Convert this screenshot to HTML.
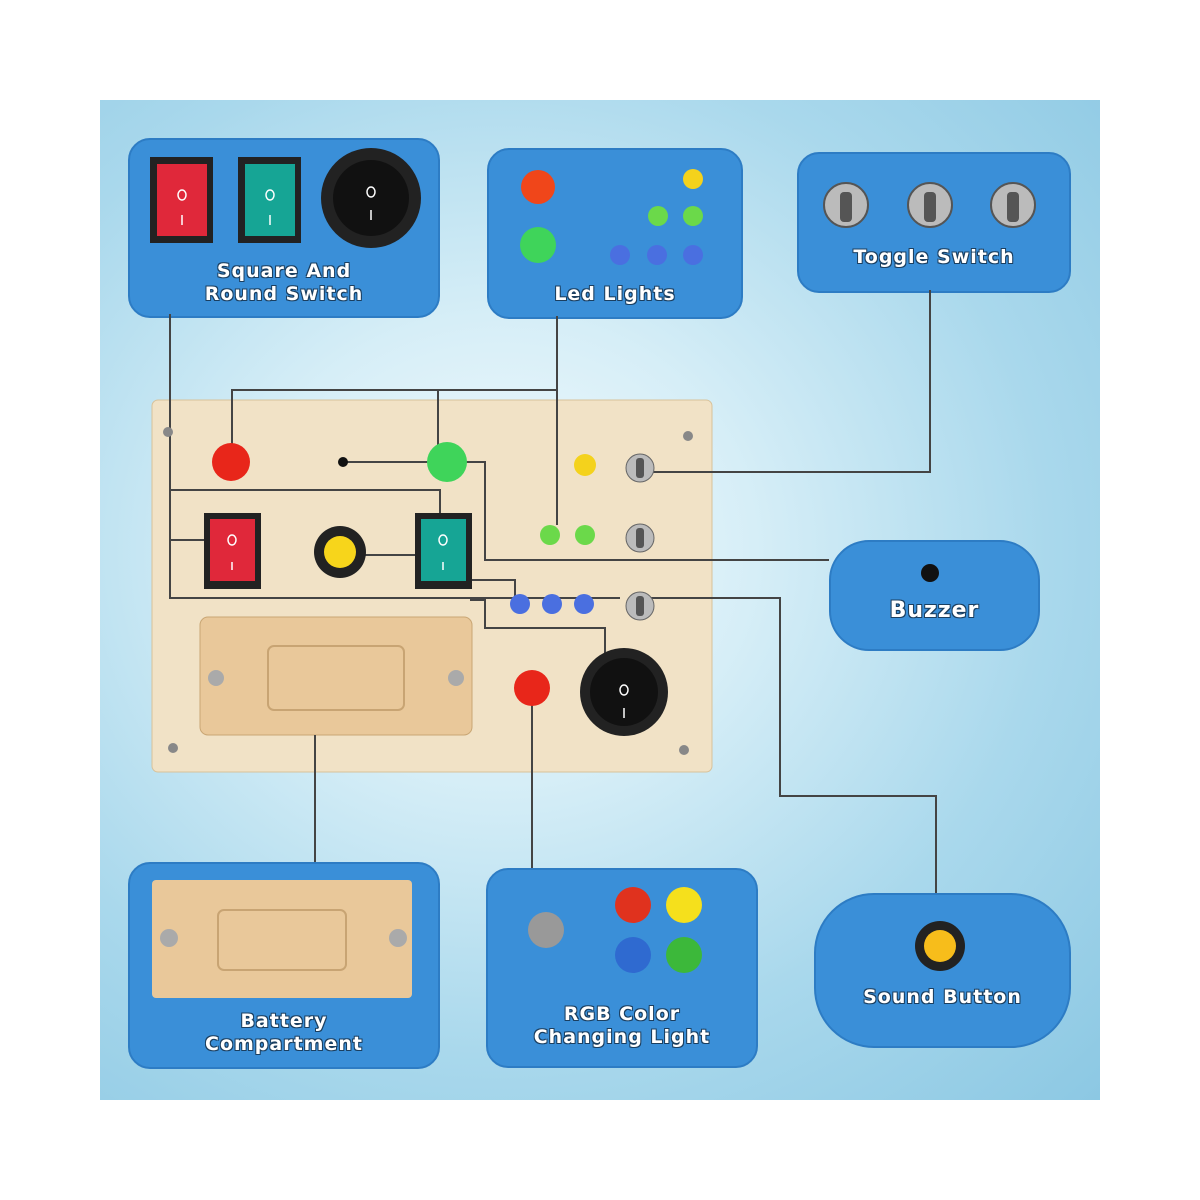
<!DOCTYPE html>
<html><head><meta charset="utf-8"><style>
body{margin:0;width:1200px;height:1200px;background:#fff;position:relative;overflow:hidden;font-family:"Liberation Serif",serif}
.bg{position:absolute;left:100px;top:100px;width:1000px;height:1000px;background:radial-gradient(ellipse at 40% 45%,#f4fbfe 0%,#d6eef7 30%,#a9d8ec 65%,#8cc8e3 100%)}
.box{position:absolute;background:#3a8fd8;border-radius:22px;border:2px solid #2d7cc4}
.lbl{position:absolute;color:#fff;font-family:"DejaVu Sans","Liberation Sans",sans-serif;font-weight:bold;font-size:19px;text-align:center;width:100%;line-height:23px;letter-spacing:1px;text-shadow:1px 1px 0 #1b3f60,-1px 1px 0 #1b3f60,1px -1px 0 #1b3f60,-1px -1px 0 #1b3f60}
svg{position:absolute;left:0;top:0}
</style></head><body>
<div class="bg"></div>
<div class="box" style="left:128px;top:138px;width:308px;height:176px"><div class="lbl" style="top:120px">Square And<br>Round Switch</div></div>
<div class="box" style="left:487px;top:148px;width:252px;height:167px"><div class="lbl" style="top:133px">Led Lights</div></div>
<div class="box" style="left:797px;top:152px;width:270px;height:137px"><div class="lbl" style="top:92px">Toggle Switch</div></div>
<div class="box" style="left:829px;top:540px;width:207px;height:107px;border-radius:40px"><div class="lbl" style="top:57px;font-size:22px">Buzzer</div></div>
<div class="box" style="left:128px;top:862px;width:308px;height:203px"><div class="lbl" style="top:146px">Battery<br>Compartment</div></div>
<div class="box" style="left:486px;top:868px;width:268px;height:196px"><div class="lbl" style="top:133px">RGB Color<br>Changing Light</div></div>
<div class="box" style="left:814px;top:893px;width:253px;height:151px;border-radius:60px"><div class="lbl" style="top:91px">Sound Button</div></div>
<svg width="1200" height="1200">
<rect x="152" y="400" width="560" height="372" rx="6" fill="#f1e2c6" stroke="#d8c29a"/>
<rect x="200" y="617" width="272" height="118" rx="8" fill="#e9c89a" stroke="#c9a674"/>
<rect x="268" y="646" width="136" height="64" rx="6" fill="none" stroke="#c8a473" stroke-width="2"/>
<circle cx="216" cy="678" r="8" fill="#aaa"/><circle cx="456" cy="678" r="8" fill="#aaa"/>
<g stroke="#444" stroke-width="2" fill="none">
<polyline points="170,314 170,598 620,598"/>
<polyline points="232,455 232,390 557,390 557,316"/>
<polyline points="438,455 438,390"/>
<polyline points="170,490 440,490 440,530"/>
<polyline points="170,540 215,540"/>
<polyline points="343,462 485,462 485,560 829,560"/>
<polyline points="360,555 415,555"/>
<polyline points="557,390 557,525"/>
<polyline points="653,472 930,472 930,290"/>
<polyline points="465,580 515,580 515,600"/>
<polyline points="470,600 485,600 485,628 605,628 605,660"/>
<polyline points="640,598 780,598 780,796 936,796 936,893"/>
<polyline points="315,735 315,862"/>
<polyline points="532,690 532,868"/>
</g>
<circle cx="343" cy="462" r="5" fill="#111"/>
<circle cx="231" cy="462" r="19" fill="#e8261a"/>
<circle cx="447" cy="462" r="20" fill="#3fd45a"/>
<circle cx="585" cy="465" r="11" fill="#f4d21c"/>
<circle cx="550" cy="535" r="10" fill="#6bd94a"/><circle cx="585" cy="535" r="10" fill="#6bd94a"/>
<circle cx="520" cy="604" r="10" fill="#4a6fe0"/><circle cx="552" cy="604" r="10" fill="#4a6fe0"/><circle cx="584" cy="604" r="10" fill="#4a6fe0"/>
<rect x="204" y="513" width="57" height="76" fill="#222"/><rect x="210" y="519" width="45" height="62" fill="#e0283a"/>
<rect x="415" y="513" width="57" height="76" fill="#222"/><rect x="421" y="519" width="45" height="62" fill="#16a595"/>
<g stroke="#fff" stroke-width="1.5" fill="none"><ellipse cx="232" cy="540" rx="4" ry="5"/><line x1="232" y1="562" x2="232" y2="570"/><ellipse cx="443" cy="540" rx="4" ry="5"/><line x1="443" y1="562" x2="443" y2="570"/></g>
<circle cx="340" cy="552" r="26" fill="#222"/><circle cx="340" cy="552" r="16" fill="#f7d51b"/>
<circle cx="532" cy="688" r="18" fill="#e8261a"/>
<circle cx="624" cy="692" r="44" fill="#222"/><circle cx="624" cy="692" r="34" fill="#111"/>
<g stroke="#fff" stroke-width="1.5" fill="none"><ellipse cx="624" cy="690" rx="4" ry="5"/><line x1="624" y1="708" x2="624" y2="718"/></g>
<g fill="#bbb" stroke="#666"><circle cx="640" cy="468" r="14"/><circle cx="640" cy="538" r="14"/><circle cx="640" cy="606" r="14"/></g>
<g fill="#555"><rect x="636" y="458" width="8" height="20" rx="3"/><rect x="636" y="528" width="8" height="20" rx="3"/><rect x="636" y="596" width="8" height="20" rx="3"/></g>
<g fill="#888"><circle cx="168" cy="432" r="5"/><circle cx="688" cy="436" r="5"/><circle cx="173" cy="748" r="5"/><circle cx="684" cy="750" r="5"/></g>
<rect x="150" y="157" width="63" height="86" fill="#222"/><rect x="157" y="164" width="50" height="72" fill="#e0283a"/>
<rect x="238" y="157" width="63" height="86" fill="#222"/><rect x="245" y="164" width="50" height="72" fill="#16a595"/>
<circle cx="371" cy="198" r="50" fill="#222"/><circle cx="371" cy="198" r="38" fill="#111"/>
<g stroke="#fff" stroke-width="1.5" fill="none"><ellipse cx="182" cy="195" rx="4" ry="5"/><line x1="182" y1="215" x2="182" y2="225"/><ellipse cx="270" cy="195" rx="4" ry="5"/><line x1="270" y1="215" x2="270" y2="225"/><ellipse cx="371" cy="192" rx="4" ry="5"/><line x1="371" y1="210" x2="371" y2="220"/></g>
<circle cx="538" cy="187" r="17" fill="#f0461a"/><circle cx="538" cy="245" r="18" fill="#3fd45a"/>
<circle cx="693" cy="179" r="10" fill="#f4d21c"/>
<circle cx="658" cy="216" r="10" fill="#6bd94a"/><circle cx="693" cy="216" r="10" fill="#6bd94a"/>
<circle cx="620" cy="255" r="10" fill="#4a6fe0"/><circle cx="657" cy="255" r="10" fill="#4a6fe0"/><circle cx="693" cy="255" r="10" fill="#4a6fe0"/>
<g fill="#bbb" stroke="#555" stroke-width="2"><circle cx="846" cy="205" r="22"/><circle cx="930" cy="205" r="22"/><circle cx="1013" cy="205" r="22"/></g>
<g fill="#555"><rect x="840" y="192" width="12" height="30" rx="4"/><rect x="924" y="192" width="12" height="30" rx="4"/><rect x="1007" y="192" width="12" height="30" rx="4"/></g>
<circle cx="930" cy="573" r="9" fill="#111"/>
<rect x="152" y="880" width="260" height="118" rx="4" fill="#e9c89a"/>
<rect x="218" y="910" width="128" height="60" rx="6" fill="none" stroke="#c8a473" stroke-width="2"/>
<circle cx="169" cy="938" r="9" fill="#aaa"/><circle cx="398" cy="938" r="9" fill="#aaa"/>
<circle cx="546" cy="930" r="18" fill="#999"/>
<circle cx="633" cy="905" r="18" fill="#e0321e"/><circle cx="684" cy="905" r="18" fill="#f5e01c"/>
<circle cx="633" cy="955" r="18" fill="#2f6ad0"/><circle cx="684" cy="955" r="18" fill="#3cb83a"/>
<circle cx="940" cy="946" r="25" fill="#222"/><circle cx="940" cy="946" r="16" fill="#f7bd1b"/>
</svg>
</body></html>
